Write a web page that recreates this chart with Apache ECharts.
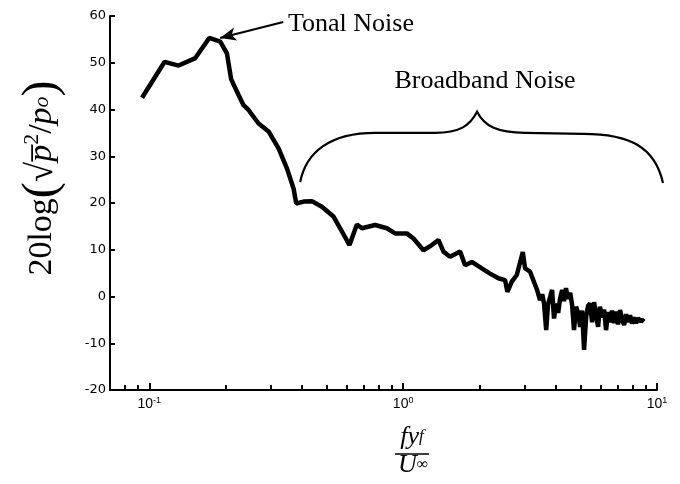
<!DOCTYPE html>
<html>
<head>
<meta charset="utf-8">
<script src="https://cdn.jsdelivr.net/npm/echarts@6/dist/echarts.min.js"></script>
<style>
html, body { margin: 0; padding: 0; background: #fff; }
#chart { width: 680px; height: 484px; }
</style>
</head>
<body>
<div id="chart"></div>
<script>
// spectrum: f*y_f/U vs 20log(...)
var freq = [0.0936, 0.1149, 0.1304, 0.1518, 0.1722, 0.1903, 0.1961, 0.2022, 0.2100, 0.2247, 0.2345, 0.2459,
  0.2694, 0.2949, 0.3229, 0.3484, 0.3700, 0.3791, 0.4051, 0.4371, 0.4785, 0.5317, 0.5739, 0.6145,
  0.6572, 0.6877, 0.7757, 0.8626, 0.9300, 1.034, 1.098, 1.202, 1.297, 1.377, 1.441, 1.531,
  1.677, 1.754, 1.864, 2.041, 2.200, 2.373, 2.521, 2.574, 2.679, 2.803, 2.960, 3.022, 3.162,
  3.37, 3.46, 3.53, 3.59, 3.66, 3.72, 3.79, 3.86, 3.93, 4.00, 4.08, 4.15,
  4.23, 4.30, 4.38, 4.46, 4.55, 4.63, 4.71, 4.80, 4.89, 4.98, 5.07, 5.16,
  5.26, 5.35, 5.45, 5.55, 5.65, 5.75, 5.86, 5.96, 6.08, 6.19, 6.30, 6.41,
  6.53, 6.65, 6.77, 6.90, 7.02, 7.15, 7.28, 7.42, 7.55, 7.69, 7.83, 7.97,
  8.12, 8.27, 8.42, 8.57, 8.73, 8.89];
var level = [42.5, 50.2, 49.4, 51.0, 55.3, 54.5, 53.3, 52.0, 46.5, 43.1, 41.0, 39.9,
  37.0, 35.3, 31.7, 27.4, 23.1, 19.9, 20.3, 20.4, 19.2, 17.1, 13.9, 11.0,
  15.4, 14.6, 15.3, 14.6, 13.5, 13.5, 12.4, 9.9, 11.0, 12.1, 9.6, 8.5,
  9.6, 6.7, 7.4, 6.0, 4.9, 3.9, 3.5, 1.0, 3.2, 4.6, 9.5, 6.0, 5.3,
  1.4, -0.8, 0.5, -1.5, -7.2, -1.8, -0.2, 1.4, -4.7, -1.5, -3.5, -0.5,
  1.4, -1.0, 1.8, -0.5, 0.8, -1.8, -7.2, -2.2, -3.5, -6.5, -3.0, -11.4,
  -4.3, -2.0, -1.5, -5.5, -1.2, -3.8, -6.5, -2.2, -4.5, -2.8, -7.2, -3.3,
  -5.5, -3.0, -5.7, -3.2, -6.0, -2.9, -5.0, -6.1, -3.8, -5.5, -4.0, -5.8,
  -4.5, -5.7, -4.6, -5.3, -5.0, -5.4];

var xMajor = [0.1, 1, 10];
var xMinor = [0.08, 0.09, 0.2, 0.3, 0.4, 0.5, 0.6, 0.7, 0.8, 0.9, 2, 3, 4, 5, 6, 7, 8, 9];

// annotations (data coordinates)
var arrowFrom = [0.337, 58.7];
var arrowTo = [0.19, 55.3];
var braceLeft = [0.393, 24.5];
var braceApex = [1.955, 39.5];
var braceRight = [10.56, 24.3];
var braceShoulder = 35.0;

var serif = "'Liberation Serif', 'Times New Roman', serif";
var sans = "'Liberation Sans', Arial, sans-serif";
var wide = "'DejaVu Sans', Arial, sans-serif";

var chart = echarts.init(document.getElementById('chart'));

var option = {
  animation: false,
  backgroundColor: '#fff',
  grid: { left: 110, right: 23, top: 16, bottom: 94 },
  xAxis: [
    {
      type: 'log', logBase: 10, min: 0.07, max: 10, position: 'bottom',
      axisLine: { onZero: false, lineStyle: { color: '#000', width: 2 } },
      axisTick: { inside: true, length: 7, customValues: xMajor, lineStyle: { color: '#000', width: 2 } },
      axisLabel: {
        customValues: xMajor, margin: 6, color: '#000',
        formatter: function (v) { return '{b|10}{s|' + Math.round(Math.log10(v)) + '}'; },
        rich: {
          b: { fontSize: 14, fontFamily: sans, color: '#000' },
          s: { fontSize: 9, fontFamily: sans, color: '#000', padding: [0, 0, 8, 0] }
        }
      },
      splitLine: { show: false }
    },
    {
      type: 'log', logBase: 10, min: 0.07, max: 10, position: 'bottom', offset: 0,
      axisLine: { show: false, onZero: false },
      axisTick: { inside: true, length: 5, customValues: xMinor, lineStyle: { color: '#000', width: 2 } },
      axisLabel: { show: false },
      splitLine: { show: false }
    }
  ],
  yAxis: {
    type: 'value', min: -20, max: 60, interval: 10,
    axisLine: { show: true, onZero: false, lineStyle: { color: '#000', width: 2 } },
    axisTick: { show: true, inside: true, length: 5, lineStyle: { color: '#000', width: 2 } },
    axisLabel: { fontSize: 13, fontFamily: wide, color: '#000', margin: 4 },
    splitLine: { show: false }
  },
  series: [
    {
      type: 'line',
      data: freq.map(function (f, i) { return [f, level[i]]; }),
      showSymbol: false,
      lineStyle: { color: '#000', width: 4.5 },
      z: 3,
      markLine: {
        silent: true,
        symbol: ['none', 'arrow'],
        symbolSize: [10, 16],
        label: { show: false },
        lineStyle: { color: '#000', width: 2, type: 'solid' },
        data: [[{ coord: arrowFrom }, { coord: arrowTo }]]
      }
    },
    {
      type: 'custom',
      silent: true,
      clip: false,
      data: [braceLeft],
      renderItem: function (params, api) {
        var L = api.coord(braceLeft);
        var A = api.coord(braceApex);
        var R = api.coord(braceRight);
        var S = api.coord([1, braceShoulder])[1];
        var d = 'M' + L[0] + ',' + L[1] +
          ' C' + (L[0] + 6) + ',' + (L[1] - 30) + ' ' + (L[0] + 30) + ',' + S + ' ' + (L[0] + 75) + ',' + S +
          ' L' + (A[0] - 42) + ',' + S +
          ' C' + (A[0] - 18) + ',' + S + ' ' + (A[0] - 7) + ',' + (S - 7) + ' ' + A[0] + ',' + A[1] +
          ' C' + (A[0] + 7) + ',' + (S - 7) + ' ' + (A[0] + 20) + ',' + S + ' ' + (A[0] + 48) + ',' + S +
          ' L' + (R[0] - 80) + ',' + (S + 1) +
          ' C' + (R[0] - 32) + ',' + (S + 1) + ' ' + (R[0] - 8) + ',' + (R[1] - 35) + ' ' + R[0] + ',' + R[1];
        return {
          type: 'path',
          shape: { pathData: d },
          style: { fill: 'none', stroke: '#000', lineWidth: 2.2 }
        };
      }
    }
  ],
  graphic: [
    {
      type: 'text', x: 288, y: 37,
      style: { text: 'Tonal Noise', font: '26px ' + serif, fill: '#000', textAlign: 'left', textVerticalAlign: 'bottom' }
    },
    {
      type: 'text', x: 485, y: 94,
      style: { text: 'Broadband Noise', font: '26px ' + serif, fill: '#000', textAlign: 'center', textVerticalAlign: 'bottom' }
    },
    {
      type: 'text', x: 42, y: 178, rotation: Math.PI / 2,
      style: {
        text: '{a|20log}{b|(}{c|√}{i|p\u0305}{u|2}{a|/}{i|p}{d|o}{b|)}',
        textAlign: 'center', textVerticalAlign: 'middle', fill: '#000',
        rich: {
          a: { fontSize: 34, fontFamily: serif, fill: '#000' },
          b: { fontSize: 48, fontFamily: serif, fill: '#000' },
          c: { fontSize: 37, fontFamily: serif, fill: '#000' },
          i: { fontSize: 34, fontFamily: serif, fontStyle: 'italic', fill: '#000' },
          u: { fontSize: 22, fontFamily: serif, fill: '#000', padding: [0, 0, 20, 0] },
          d: { fontSize: 22, fontFamily: serif, fontStyle: 'italic', fill: '#000' }
        }
      }
    },
    {
      type: 'text', x: 412, y: 450,
      style: {
        text: '{i|fy}{s|f}', textAlign: 'center', textVerticalAlign: 'bottom', fill: '#000',
        rich: {
          i: { fontSize: 26, fontFamily: serif, fontStyle: 'italic', fill: '#000' },
          s: { fontSize: 17, fontFamily: serif, fontStyle: 'italic', fill: '#000' }
        }
      }
    },
    {
      type: 'line', shape: { x1: 395, y1: 454, x2: 429, y2: 454 },
      style: { stroke: '#000', lineWidth: 1.5 }
    },
    {
      type: 'text', x: 413, y: 478,
      style: {
        text: '{i|U}{s|∞}', textAlign: 'center', textVerticalAlign: 'bottom', fill: '#000',
        rich: {
          i: { fontSize: 26, fontFamily: serif, fontStyle: 'italic', fill: '#000' },
          s: { fontSize: 16, fontFamily: serif, fill: '#000' }
        }
      }
    }
  ]
};

chart.setOption(option);
</script>
</body>
</html>
